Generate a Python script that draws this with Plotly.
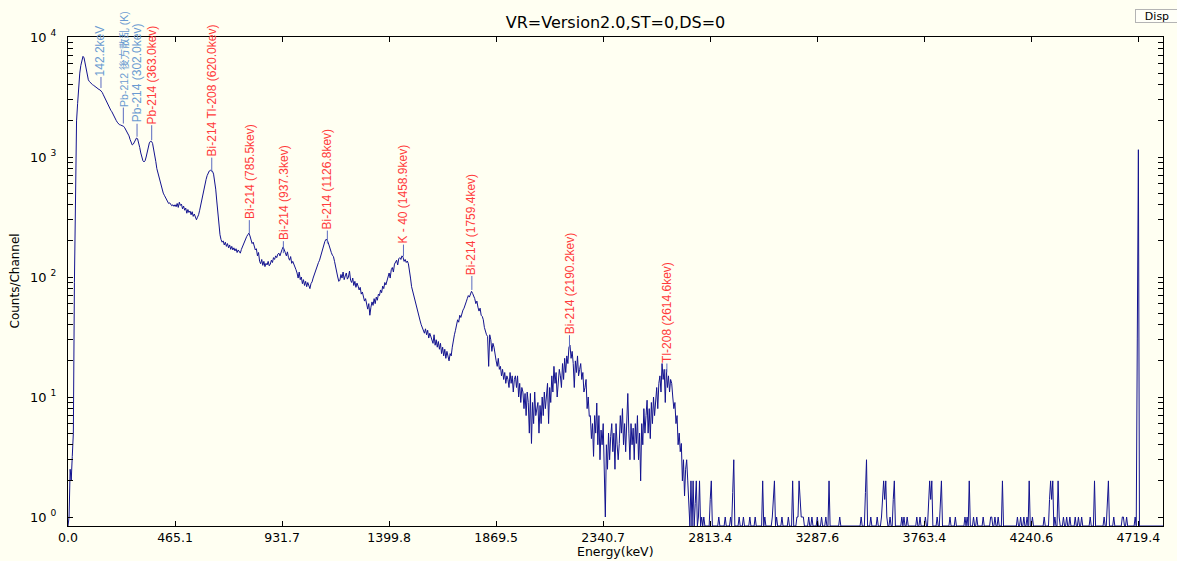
import math
import plotly.graph_objects as go

# ---------------- data ----------------
# counts per channel, channels 0-99
counts_0_99 = [0, 1, 2.5, 2, 3.2, 5, 90, 800, 2000, 2800,
               3900, 5000, 5800, 6500, 6900, 6700, 6000, 5300, 4700, 4400,
               4250, 4150, 4050, 4000, 3950, 3880, 3800, 3750, 3700, 3650,
               3620, 3560, 3450, 3300, 3150, 3000, 2900, 2800, 2680, 2560,
               2450, 2380, 2300, 2200, 2100, 2020, 1950, 1880, 1860, 1850,
               1840, 1830, 1800, 1750, 1690, 1620, 1560, 1500, 1400, 1300,
               1260, 1280, 1340, 1400, 1440, 1420, 1330, 1200, 1080, 990,
               930, 910, 930, 1000, 1100, 1220, 1310, 1350, 1350, 1300,
               1180, 1040, 920, 800, 740, 680, 620, 570, 530, 500,
               480, 460, 440, 425, 410, 415, 400, 392, 400, 388]
# channels 100-199
counts_100_199 = [400, 385, 410, 380, 420, 395, 405, 370, 390, 360,
                  375, 340, 365, 345, 355, 330, 350, 320, 335, 310,
                  300, 315, 330, 360, 400, 450, 500, 550, 600, 650,
                  700, 740, 765, 775, 770, 760, 720, 640, 540, 430,
                  330, 260, 225, 205, 195, 200, 185, 195, 180, 190,
                  175, 185, 170, 180, 168, 175, 165, 172, 160, 168,
                  162, 158, 170, 180, 190, 200, 210, 218, 225, 232,
                  220, 205, 190, 195, 175, 168, 172, 150, 160, 135,
                  129, 140, 125, 135, 122, 130, 126, 135, 124, 128,
                  138, 132, 145, 140, 150, 145, 155, 158, 150, 165]
# channels 200-299
counts_200_299 = [170, 178, 165, 160, 150, 162, 145, 138, 148, 130,
                  135, 126, 120, 115, 108, 98, 110, 95, 100, 88,
                  95, 85, 92, 83, 90, 86, 80, 88, 91, 98,
                  105, 112, 118, 125, 132, 138, 150, 162, 175, 188,
                  198, 206, 204, 195, 180, 168, 160, 152, 148, 135,
                  120, 110, 100, 92, 94, 105, 98, 110, 95, 102,
                  108, 96, 100, 112, 94, 90, 98, 85, 92, 82,
                  89, 84, 78, 82, 72, 75, 68, 63, 66, 58,
                  54, 60, 48, 56, 62, 58, 66, 60, 68, 64,
                  72, 70, 78, 74, 84, 80, 90, 86, 94, 100]
# channels 300-399
counts_300_399 = [108, 98, 115, 120, 110, 128, 132, 138, 126, 142,
                  145, 140, 150, 146, 135, 140, 132, 136, 129, 115,
                  98, 83, 76, 70, 64, 60, 56, 52, 47, 43,
                  40, 38, 36, 34, 37, 33, 36, 31, 34, 32,
                  30, 28, 33, 27, 30, 26, 29, 25, 28, 23,
                  26, 22, 25, 21, 24, 22, 20, 23, 22, 26,
                  30, 33, 36, 40, 44, 42, 48, 46, 50, 53,
                  55, 60, 62, 66, 70, 68, 74, 76, 73, 70,
                  66, 60, 63, 56, 52, 55, 48, 47, 44, 38,
                  35, 33, 32, 18, 33, 30, 24, 28, 26, 22]
# channels 400-499
counts_400_499 = [20, 18, 21, 17, 18, 15, 17, 14, 16, 13,
                  15, 14, 12, 16, 13, 15, 11, 14, 15, 12,
                  15, 10, 13, 9, 12, 11, 8, 10.7, 7, 11,
                  9, 5, 10.7, 4.1, 9, 6, 11, 7, 7.8, 9,
                  5, 8.5, 6, 10, 7, 11, 8, 10, 13, 6,
                  12, 9, 15, 11, 18, 13, 16, 10, 14, 17,
                  15, 12, 19, 14, 21, 16, 22, 19, 26, 27,
                  21, 24, 19, 12, 20, 16, 22, 15, 17, 19,
                  14, 16, 11, 12, 14, 8, 10, 6.9, 7, 4.5,
                  6, 3.2, 7, 5, 8.9, 4, 7, 3, 5.3, 4]
# channels 500-599
counts_500_599 = [6, 3, 1, 4, 2.5, 5, 3, 4.7, 6, 3.5,
                  5, 2.5, 6, 4, 3, 4.1, 7, 5, 8, 4,
                  6, 3.5, 7, 10.7, 5, 3, 6, 4, 5.5, 3,
                  6, 4.1, 7, 3, 5, 2, 6, 4, 8, 5,
                  7, 9.4, 5, 8, 4.5, 9, 6, 10, 7, 10,
                  12, 8, 13, 15, 11, 19, 14, 17, 9, 17,
                  12, 15, 11, 14, 13, 10, 8, 9, 6, 7,
                  4, 5, 3.5, 4.1, 2, 3, 1.5, 2.5, 3, 2,
                  1.3, 0, 2, 0, 2, 0, 1.3, 2, 0, 1,
                  2, 0, 1, 0, 1, 0, 0, 0, 0, 0]
# sparse counts in the tail (channel, counts); all other channels are 0
tail_channels = [600, 601, 608, 614, 619, 621, 622, 627, 631, 637, 642,
                 649, 651, 658, 659, 660, 662, 667, 673, 677, 681, 682,
                 683, 684, 685, 686, 687, 692, 695, 700, 704, 708, 711,
                 721, 741, 745, 746, 750, 756, 760, 761, 762, 763, 764,
                 765, 768, 771, 772, 779, 781, 784, 793, 796, 801, 804,
                 805, 806, 807, 812, 815, 816, 824, 829, 838, 840, 842,
                 846, 849, 855, 862, 863, 866, 869, 873, 887, 890, 893,
                 896, 898, 901, 912, 917, 918, 919, 920, 922, 925, 926,
                 930, 933, 936, 941, 944, 947, 955, 959, 968, 971, 972,
                 977, 985, 986, 989, 997, 999, 1000]
tail_counts = [1.4, 2, 1, 1, 1, 1.6, 3, 1, 1, 1, 1,
               2, 1, 1, 1.4, 2, 1, 1, 1, 2, 1, 1,
               2, 1.4, 1, 1, 1, 1, 1, 1, 1, 1, 2,
               1, 1, 1.6, 3, 1, 1, 1, 1.4, 2, 1.4, 2,
               1, 1, 1.4, 2, 1, 1, 1, 1, 1, 1, 1.4,
               2, 1.4, 2, 1, 1.4, 2, 1, 1, 1, 1, 2,
               1, 1, 1, 1, 1, 1, 1, 2, 1, 1, 1,
               1, 2, 1, 1, 1.4, 2, 1.4, 2, 1, 2, 1,
               1, 1, 1, 1, 1, 1, 1, 2, 1, 1.4, 2,
               1, 1, 1, 1, 1, 31, 1150]
n_channels = 1024

# x-axis ticks (channel -> energy label)
tick_channels = [0, 100, 200, 300, 400, 500, 600, 700, 800, 900, 1000]
tick_labels = ["0.0", "465.1", "931.7", "1399.8", "1869.5", "2340.7",
               "2813.4", "3287.6", "3763.4", "4240.6", "4719.4"]

# peak identification markers
peak_labels = ["142.2keV", "Pb-212 後方散乱 (K)", "Pb-214 (302.0kev)",
               "Pb-214 (363.0kev)", "Bi-214 Tl-208 (620.0kev)",
               "Bi-214 (785.5kev)", "Bi-214 (937.3kev)",
               "Bi-214 (1126.8kev)", "K - 40 (1458.9kev)",
               "Bi-214 (1759.4kev)", "Bi-214 (2190.2kev)",
               "Tl-208 (2614.6kev)"]
peak_channels = [30.8, 51.7, 64.5, 78.2, 134.3, 169.4, 201.2, 242.3,
                 313.4, 377.3, 468.5, 559.5]
peak_base = [3760, 1900, 1475, 1380, 755, 232, 158, 190, 148, 78, 26, 16]
peak_is_blue = [True, True, True, False, False, False, False, False,
                False, False, False, False]
peak_line_px = [11, 16, 13, 15, 14, 13, 12, 13, 12, 14, 12, 9]

# ---------------- build ----------------
counts = (counts_0_99 + counts_100_199 + counts_200_299 + counts_300_399
          + counts_400_499 + counts_500_599)
counts = counts + [0] * (n_channels - len(counts))
for c, v in zip(tail_channels, tail_counts):
    counts[c] = v

Y_MIN_LOG = -0.075
Y_MAX_LOG = 4.0
floor_val = 10 ** Y_MIN_LOG
PX_PER_DECADE = 489 / (Y_MAX_LOG - Y_MIN_LOG)
y_plot = [max(v, floor_val) for v in counts]
chan = list(range(n_channels))

BG = "#fffff2"
FONT = "DejaVu Sans"
LABEL_FONT = "Liberation Sans, Noto Sans CJK JP"
BLUE = "#6b9bd1"
RED = "#ff3b3b"
MARK = "#5b6bc0"

fig = go.Figure()
fig.add_trace(go.Scatter(x=chan, y=y_plot, mode="lines",
                         line=dict(color="#13138f", width=1),
                         hoverinfo="skip"))

# marker lines
mx, my = [], []
tops = []
for ch, b, lp in zip(peak_channels, peak_base, peak_line_px):
    top = b * 10 ** (lp / PX_PER_DECADE)
    tops.append(top)
    mx += [ch, ch, None]
    my += [b, top, None]
fig.add_trace(go.Scatter(x=mx, y=my, mode="lines",
                         line=dict(color=MARK, width=1), hoverinfo="skip"))

annotations = []
for lab, ch, top, blue in zip(peak_labels, peak_channels, tops, peak_is_blue):
    size = 12 if lab.isascii() else 10.5
    annotations.append(dict(
        x=ch, y=math.log10(top), xref="x", yref="y", text=lab,
        showarrow=False, textangle=-90, xanchor="center", yanchor="bottom",
        yshift=0, borderpad=0,
        font=dict(family=LABEL_FONT, size=size, color=BLUE if blue else RED)))

# axis titles
annotations.append(dict(x=0.5, y=0, xref="paper", yref="paper",
                        text="Energy(keV)", showarrow=False, yshift=-25,
                        yanchor="middle",
                        font=dict(family=FONT, size=12.5, color="#000")))
annotations.append(dict(x=(14 - 68) / 1095, y=0.5, xref="paper", yref="paper",
                        text="Counts/Channel", showarrow=False, textangle=-90,
                        xanchor="center", yanchor="middle",
                        font=dict(family=FONT, size=12, color="#000")))
# Disp button
annotations.append(dict(x=(1135 - 68) / 1095, y=1 + (37 - 9) / 489,
                        xref="paper", yref="paper", text="Disp",
                        showarrow=False, xanchor="left", yanchor="top",
                        align="center", width=42, height=12, borderpad=0,
                        bordercolor="#b4b4b4", borderwidth=1, bgcolor="#fffff8",
                        font=dict(family=FONT, size=11, color="#000")))

# y ticks (decades labelled, minor digits unlabelled)
ytickvals, yticktext = [], []
for k in range(0, 4):
    for d in range(1, 10):
        ytickvals.append(d * 10 ** k)
        yticktext.append(f"10 <sup>{k}</sup>" if d == 1 else "")
ytickvals.append(10 ** 4)
yticktext.append("10 <sup>4</sup>")

fig.update_layout(
    width=1177, height=561,
    margin=dict(l=68, r=14, t=37, b=35, autoexpand=False),
    paper_bgcolor=BG, plot_bgcolor=BG,
    showlegend=False,
    hovermode=False,
    title=dict(text="VR=Version2.0,ST=0,DS=0", x=0.5, xref="paper",
               xanchor="center", y=1 - 22 / 561, yanchor="middle",
               font=dict(family=FONT, size=16, color="#000")),
    xaxis=dict(range=[0, 1023], tickmode="array", tickvals=tick_channels,
               ticktext=tick_labels, ticks="inside", ticklen=5,
               tickcolor="#000", showline=True, linecolor="#000",
               linewidth=1, mirror="ticks", showgrid=False, zeroline=False,
               automargin=False,
               tickfont=dict(family=FONT, size=12.5, color="#000")),
    yaxis=dict(type="log", range=[Y_MIN_LOG, Y_MAX_LOG], tickmode="array",
               tickvals=ytickvals, ticktext=yticktext, ticks="inside",
               ticklen=5, tickcolor="#000", showline=True, linecolor="#000",
               linewidth=1, mirror="ticks", showgrid=False, zeroline=False,
               ticklabelstandoff=8, automargin=False,
               tickfont=dict(family=FONT, size=13, color="#000")),
    annotations=annotations,
    shapes=[dict(type="line", xref="x", xsizemode="pixel", xanchor=0,
                 x0=-1.5, x1=-1.5, yref="paper", y0=0, y1=1,
                 line=dict(color="#7b7b33", width=2))],
)

fig.write_html("out.html", config={"displayModeBar": False},
               post_script="document.body.style.margin='0px';"
                           "document.body.style.background='" + BG + "';")
